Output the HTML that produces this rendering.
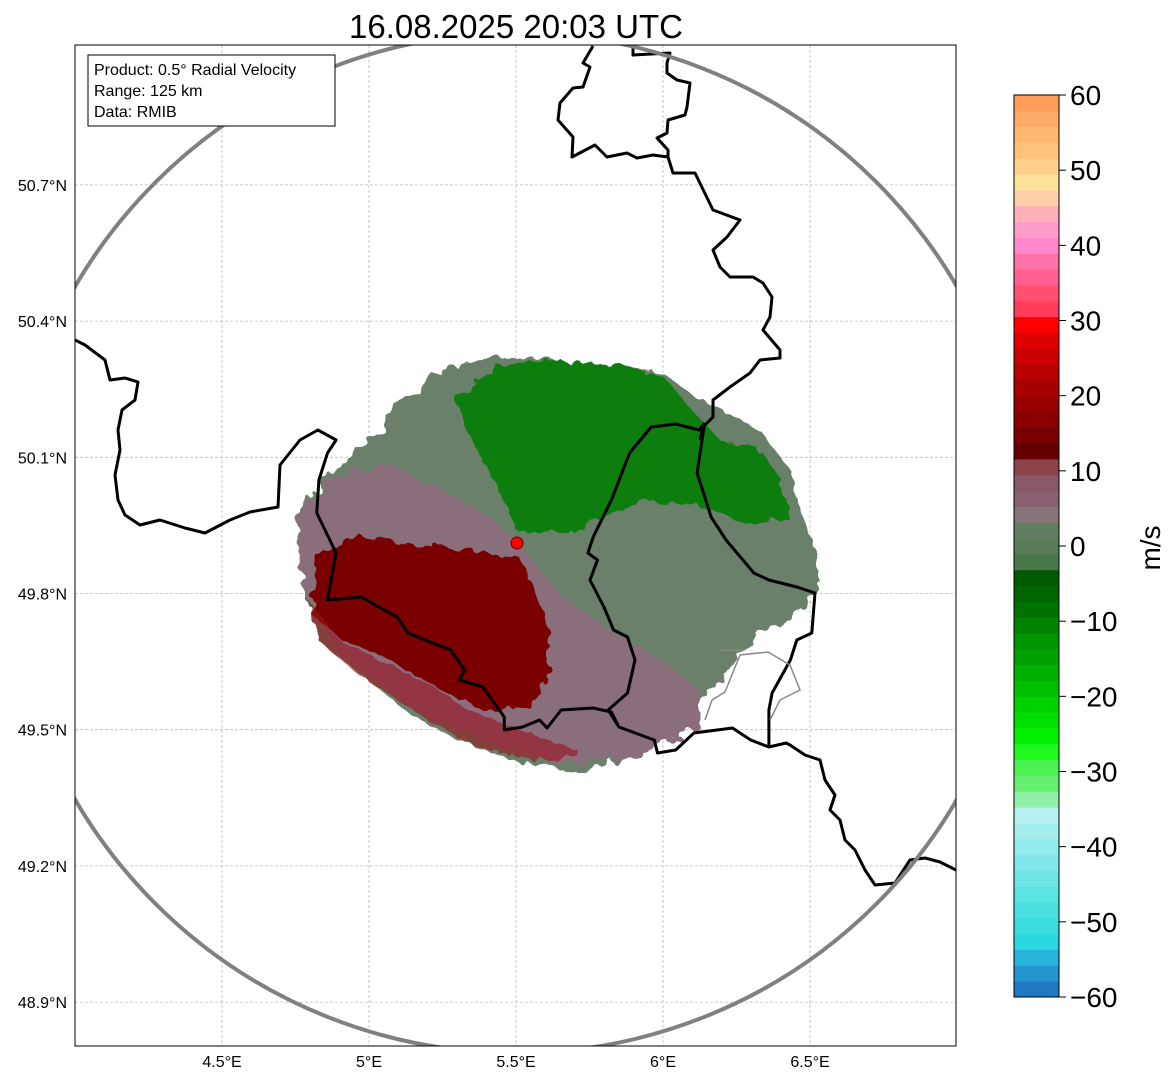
<!DOCTYPE html>
<html><head><meta charset="utf-8"><style>
body{margin:0;background:#fff;width:1171px;height:1081px;overflow:hidden;font-family:"Liberation Sans","DejaVu Sans",sans-serif}
</style></head><body>
<svg id="chart" width="1171" height="1081" xmlns="http://www.w3.org/2000/svg" font-family="Liberation Sans, DejaVu Sans, sans-serif">
<defs><clipPath id="pc"><rect x="75" y="45" width="881" height="1001"/></clipPath>
<filter id="rough"><feTurbulence type="fractalNoise" baseFrequency="0.08" numOctaves="2" seed="3" result="n"/><feDisplacementMap in="SourceGraphic" in2="n" scale="16"/></filter></defs>
<text x="516" y="38" font-size="33" text-anchor="middle" fill="#000">16.08.2025 20:03 UTC</text>
<g id="grid"></g>
<g clip-path="url(#pc)">
 <g filter="url(#rough)">
  <polygon fill="#6a806b" points="298,515 330,470 380,430 400,400 440,370 500,355 560,360 620,366 665,375 700,400 760,430 790,470 800,510 820,560 815,595 785,620 750,640 720,680 680,720 640,752 580,772 520,762 460,742 410,714 360,674 320,642 305,590"/>
  <polygon fill="#8a6e7b" points="296,520 330,480 380,462 440,488 490,518 520,545 560,595 610,630 660,660 700,690 700,725 640,755 560,765 500,745 420,714 340,654 302,585"/>
  <polygon fill="#7a0606" points="316,555 360,535 420,545 480,552 520,558 535,590 548,630 548,680 530,705 490,712 450,695 420,678 380,655 340,638 312,615"/>
  <polygon fill="#9a0a14" opacity="0.55" points="308,600 340,640 380,660 430,685 470,710 520,730 580,752 540,762 470,745 420,715 360,676 320,642"/>
  <polygon fill="#117d11" points="455,400 500,365 560,360 620,366 665,378 690,408 720,440 760,450 782,480 790,520 740,522 700,505 640,500 600,520 560,532 518,532 495,482 472,440"/>
 </g>
 <path id="borders" fill="none" stroke="#000" stroke-width="3" stroke-linejoin="round" d=""/>
 <path fill="none" stroke="#888" stroke-width="1.5" d="M705,720 L712,700 L725,692 L740,655 L768,652 L790,665 L800,690 L780,700 L770,720 M720,650 L745,650"/>
 <circle cx="516" cy="543" r="510" fill="none" stroke="#808080" stroke-width="4"/>
 <circle cx="517" cy="543" r="6" fill="#f00" stroke="#600" stroke-width="1"/>
</g>
<rect x="75" y="45" width="881" height="1001" fill="none" stroke="#000" stroke-width="1"/>
<g>
 <rect x="88" y="55" width="247" height="71" fill="#fff" stroke="#000" stroke-width="1"/>
 <text x="94" y="75" font-size="16">Product: 0.5° Radial Velocity</text>
 <text x="94" y="96" font-size="16">Range: 125 km</text>
 <text x="94" y="117" font-size="16">Data: RMIB</text>
</g>
<g id="axes"></g>
<g id="cbar"></g>
<text transform="translate(1160,548) rotate(-90)" font-size="28" text-anchor="middle">m/s</text>
</svg>
<script>
const NS="http://www.w3.org/2000/svg";
const lonTicks=[4.5,5,5.5,6,6.5];
const latTicks=[48.9,49.2,49.5,49.8,50.1,50.4,50.7];
const cbTicks=[-60,-50,-40,-30,-20,-10,0,10,20,30,40,50,60];
const cbColors=["#1f78c0","#2495cc","#27b4d8","#2cd8e0","#3adce0","#4ae0e2","#5ce3e4","#6ee6e8","#80e8ea","#92ebec","#a4eeee","#b6f0f0","#90f0a8","#66f070","#4cf254","#20f820","#00f000","#00e000","#00d000","#00c000","#00b000","#00a000","#009400","#008400","#007200","#006400","#005a00","#4a784a","#587c58","#627e62","#867478","#886070","#885868","#884448","#660000","#780000","#8a0000","#980000","#a80000","#b80000","#cc0000","#e00000","#ff0000","#ff3c5a","#ff5070","#ff6090","#ff72a8","#ff88cc","#ff9ccc","#ffb0b8","#ffd0a8","#ffe29a","#ffd08c","#ffc27a","#ffb870","#ffaa66","#ff9e5a"];
function X(lon){return 516+(lon-5.5)*294;}
function Y(lat){return 593.5-(lat-49.8)*454;}
function CY(v){return 997-(v+60)*(902/120);}
function el(t,a,p){const e=document.createElementNS(NS,t);for(const k in a)e.setAttribute(k,a[k]);p.appendChild(e);return e;}
const grid=document.getElementById('grid'),axes=document.getElementById('axes');
lonTicks.forEach(l=>{
 const g=el('line',{x1:X(l),x2:X(l),y1:45,y2:1046,stroke:'#bbb','stroke-width':0.8,'stroke-dasharray':'3,2'},grid);
 
 
 const t=el('text',{x:X(l),y:1067,'font-size':16,'text-anchor':'middle'},axes);
 
 
 t.textContent=(l%1===0?l.toFixed(0):l)+'°E';
});
latTicks.forEach(l=>{
 const g=el('line',{x1:75,x2:956,y1:Y(l),y2:Y(l),stroke:'#bbb','stroke-width':0.8,'stroke-dasharray':'3,2'},grid);
 
 
 const t=el('text',{x:67,y:Y(l)+6,'font-size':16,'text-anchor':'end'},axes);
 
 
 t.textContent=l.toFixed(1)+'°N';
});
const cb=document.getElementById('cbar');
const step=120/cbColors.length;
cbColors.forEach((c,i)=>{
 const v0=-60+i*step,v1=v0+step;
 const r=el('rect',{x:1014,y:CY(v1),width:45,height:CY(v0)-CY(v1)+0.5,fill:c},cb);
 
 
});
el('rect',{x:1014,y:95,width:45,height:902,fill:'none',stroke:'#000','stroke-width':1},cb);
cbTicks.forEach(v=>{
 el('line',{x1:1059,x2:1066,y1:CY(v),y2:CY(v),stroke:'#000'},cb);
 const t=el('text',{x:1070,y:CY(v)+10,'font-size':28},cb);
 
 
 t.textContent=v<0?'\u2212'+(-v):String(v);
});
function cv(s){return s.split(' ').map(p=>{const a=p.split(',').map(Number);return ((a[0]-290)*3/2.8+290).toFixed(1)+','+a[1];}).join(' ');}
const west="75,340 85,345 105,360 110,380 125,378 138,382 135,400 122,410 118,430 120,450 115,475 118,500 125,515 140,525 160,520 185,528 205,533 230,520 250,512 278,507 280,465 300,440";
const mid="316,430 333,440 325,453 317,480 315,513 333,553 325,600 357,597 373,607 390,617 400,633 423,643 440,650 453,670 448,680 470,687 490,717 490,730 507,727 523,720 530,728 543,710 573,708 590,712 597,727 630,740 633,753 650,750 667,733 703,728 720,740 737,747 753,743";
const east="790,745 805,755 820,760 825,780 835,795 830,810 840,820 845,840 855,850 865,870 875,885 895,883 910,860 925,858 940,862 956,870";
const luxW="597,727 587,710 605,693 612,660 605,637 592,630 583,607 570,580 577,560 568,553 573,537 590,500 607,453 627,427 650,424 672,430 677,423";
const luxE="677,423 670,473 683,517 697,540 723,573 737,580 763,587 780,593 777,633 763,640 757,660 740,693 737,710 737,747";
const de="700,440 703,427 713,417 713,400 730,387 750,373 760,360 780,358 780,350 763,330 770,317 772,297 763,283 753,277 730,277 720,267 713,250 727,237 740,220 713,210 695,173 673,173 668,157 668,150 657,138 667,133 668,120 685,115 687,107 690,83 677,80 667,73 667,63 670,53 633,55 633,46";
const loop="593,46 583,63 590,67 583,87 573,88 560,103 558,120 573,137 572,157 595,145 607,157 627,153 637,158 653,155 668,157";
const lines=[west+" "+cv(mid)+" "+east, cv(luxW), cv(luxE), de, loop];
document.getElementById('borders').setAttribute('d',lines.map(s=>'M'+s.split(' ').join(' L')).join(' '));
</script>
</body></html>
